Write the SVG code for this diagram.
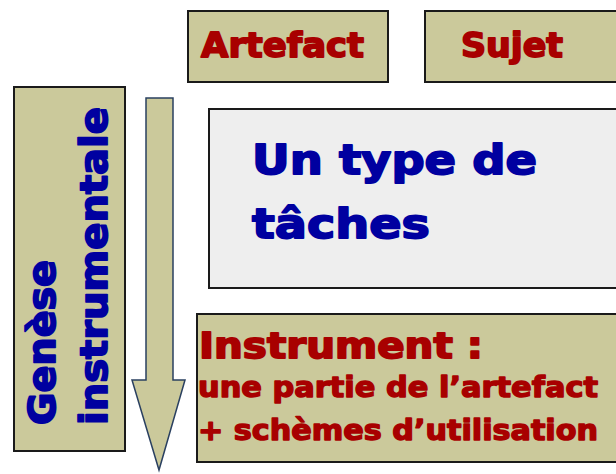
<svg xmlns="http://www.w3.org/2000/svg" width="616" height="474" viewBox="0 0 616 474">
<style>
.khaki{fill:#cbc99b;stroke:#1a1a1a;stroke-width:2}
.grey{fill:#eeeeee;stroke:#1a1a1a;stroke-width:2}
.red{fill:#a80000;stroke:#a80000;stroke-width:1.8;stroke-linejoin:round;font-family:"DejaVu Sans","Liberation Sans",sans-serif;font-weight:bold}
.blue{fill:#0000a0;stroke:#0000a0;stroke-width:1.8;stroke-linejoin:round;font-family:"DejaVu Sans","Liberation Sans",sans-serif;font-weight:bold}
.sm{stroke-width:1.4}
</style>
<rect width="616" height="474" fill="#ffffff"/>
<g id="artefact">
<rect class="khaki" x="188" y="11" width="200" height="71"/>
<text class="red" x="201" y="57" font-size="34" textLength="163" lengthAdjust="spacingAndGlyphs">Artefact</text>
</g>
<g id="sujet">
<rect class="khaki" x="425" y="11" width="200" height="71"/>
<text class="red" x="461" y="57" font-size="34" textLength="102" lengthAdjust="spacingAndGlyphs">Sujet</text>
</g>
<g id="genese">
<rect class="khaki" x="14" y="87" width="111" height="364"/>
<text class="blue" transform="translate(55,425) rotate(-90)" font-size="37" textLength="165" lengthAdjust="spacingAndGlyphs">Genèse</text>
<text class="blue" transform="translate(107,425) rotate(-90)" font-size="37" textLength="318" lengthAdjust="spacingAndGlyphs">instrumentale</text>
</g>
<g id="connectors">
<path d="M146,98 L173,98 L173,380 L185,380 L159,470 L132,380 L146,380 Z" fill="#cbc99b" stroke="#2a4060" stroke-width="1.5" stroke-linejoin="miter"/>
</g>
<g id="taches">
<rect class="grey" x="209" y="109" width="420" height="179"/>
<text class="blue" x="252" y="174" font-size="41" textLength="285" lengthAdjust="spacingAndGlyphs">Un type de</text>
<text class="blue" x="252" y="238" font-size="41" textLength="178" lengthAdjust="spacingAndGlyphs">tâches</text>
</g>
<g id="instrument">
<rect class="khaki" x="197" y="314" width="430" height="148"/>
<text class="red" x="199" y="358" font-size="36" textLength="284" lengthAdjust="spacingAndGlyphs">Instrument :</text>
<text class="red sm" x="198" y="397" font-size="28" textLength="400" lengthAdjust="spacingAndGlyphs">une partie de l’artefact</text>
<text class="red sm" x="198" y="440" font-size="28" textLength="400" lengthAdjust="spacingAndGlyphs">+ schèmes d’utilisation</text>
</g>
</svg>
